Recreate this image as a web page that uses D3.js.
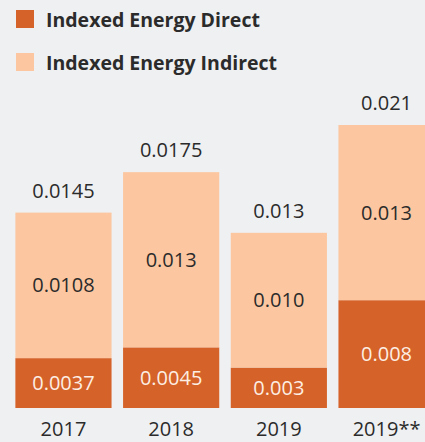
<!DOCTYPE html>
<html>
<head>
<meta charset="utf-8">
<script src="https://cdn.jsdelivr.net/npm/d3@7"></script>
<style>
  html, body { margin: 0; padding: 0; background: #eff0f2; }
  svg { display: block; font-family: "Open Sans", sans-serif; }
</style>
</head>
<body>
<div id="chart"></div>
<script>
var years = ["2017", "2018", "2019", "2019**"];
var directVals = [0.0037, 0.0045, 0.003, 0.008];
var indirectVals = [0.0108, 0.013, 0.010, 0.013];
var directLabels = ["0.0037", "0.0045", "0.003", "0.008"];
var indirectLabels = ["0.0108", "0.013", "0.010", "0.013"];
var totalLabels = ["0.0145", "0.0175", "0.013", "0.021"];
var seriesNames = ["Indexed Energy Direct", "Indexed Energy Indirect"];
var seriesColors = ["#d56228", "#fcc7a0"];

var width = 425, height = 442;

var svg = d3.select("#chart").append("svg")
    .attr("width", width)
    .attr("height", height);

svg.append("rect")
    .attr("width", width)
    .attr("height", height)
    .style("fill", "#eff0f2");

var x = d3.scaleBand()
    .domain(years)
    .range([10, 440])
    .paddingInner(0.107)
    .paddingOuter(0.05);

var y = d3.scaleLinear()
    .domain([0, 0.021])
    .range([408, 125]);

var rows = years.map(function(d, i) {
  return {year: d, direct: directVals[i], indirect: indirectVals[i], i: i};
});

// legend
var legend = svg.append("g").attr("transform", "translate(16,10)");
legend.selectAll("rect").data(seriesColors).enter()
  .append("rect")
  .attr("x", 0)
  .attr("y", function(d, i) { return i * 43; })
  .attr("width", 18)
  .attr("height", 18)
  .style("fill", function(d) { return d; });

legend.selectAll("text").data(seriesNames).enter()
  .append("text")
  .attr("x", 30)
  .attr("y", function(d, i) { return 10 + i * 43; })
  .attr("dy", "0.35em")
  .text(function(d) { return d; })
  .style("font-weight", "bold")
  .style("font-size", "19.5px")
  .style("fill", "#2b2b2b");

// bars
var bars = svg.append("g");
bars.selectAll("rect.direct").data(rows).enter()
  .append("rect")
  .attr("class", "direct")
  .attr("x", function(d) { return x(d.year); })
  .attr("width", x.bandwidth())
  .attr("y", function(d) { return y(d.direct); })
  .attr("height", function(d) { return y(0) - y(d.direct); })
  .style("fill", seriesColors[0]);

bars.selectAll("rect.indirect").data(rows).enter()
  .append("rect")
  .attr("class", "indirect")
  .attr("x", function(d) { return x(d.year); })
  .attr("width", x.bandwidth())
  .attr("y", function(d) { return y(d.direct + d.indirect); })
  .attr("height", function(d) { return y(d.direct) - y(d.direct + d.indirect); })
  .style("fill", seriesColors[1]);

var labelSize = "20px";

bars.selectAll("text.direct").data(rows).enter()
  .append("text")
  .attr("x", function(d) { return x(d.year) + x.bandwidth() / 2; })
  .attr("y", function(d) { return (y(0) + y(d.direct)) / 2; })
  .attr("dy", "0.35em")
  .attr("text-anchor", "middle")
  .text(function(d) { return directLabels[d.i]; })
  .style("font-size", labelSize)
  .style("fill", "#fdeee4");

bars.selectAll("text.indirect").data(rows).enter()
  .append("text")
  .attr("x", function(d) { return x(d.year) + x.bandwidth() / 2; })
  .attr("y", function(d) { return (y(d.direct) + y(d.direct + d.indirect)) / 2; })
  .attr("dy", "0.35em")
  .attr("text-anchor", "middle")
  .text(function(d) { return indirectLabels[d.i]; })
  .style("font-size", labelSize)
  .style("fill", "#2b2b2b");

bars.selectAll("text.total").data(rows).enter()
  .append("text")
  .attr("x", function(d) { return x(d.year) + x.bandwidth() / 2; })
  .attr("y", function(d) { return y(d.direct + d.indirect) - 22; })
  .attr("dy", "0.35em")
  .attr("text-anchor", "middle")
  .text(function(d) { return totalLabels[d.i]; })
  .style("font-size", labelSize)
  .style("fill", "#2b2b2b");

// x axis
var xAxis = svg.append("g")
    .attr("transform", "translate(0,408)")
    .call(d3.axisBottom(x).tickSize(0).tickPadding(14));
xAxis.select(".domain").remove();
xAxis.selectAll("text")
  .style("font-family", "'Open Sans', sans-serif")
  .style("font-size", labelSize)
  .style("fill", "#2b2b2b");
</script>
</body>
</html>
